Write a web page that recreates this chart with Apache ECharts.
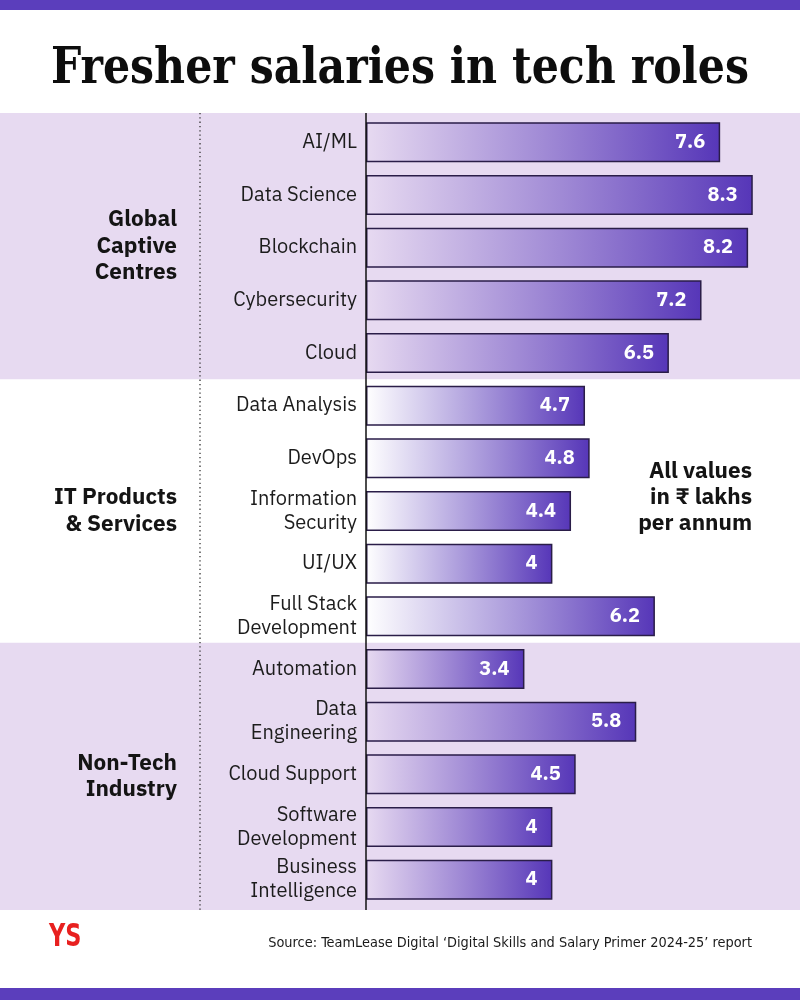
<!DOCTYPE html>
<html>
<head>
<meta charset="utf-8">
<script src="https://cdn.jsdelivr.net/npm/echarts@6/dist/echarts.min.js"></script>
<style>
html,body{margin:0;padding:0;background:#fff;}
#chart{width:800px;height:1000px;}
</style>
</head>
<body>
<div id="chart"></div>
<script>
// ---- data ----
const categories = ['AI/ML','Data Science','Blockchain','Cybersecurity','Cloud',
  'Data Analysis','DevOps','Information\nSecurity','UI/UX','Full Stack\nDevelopment',
  'Automation','Data\nEngineering','Cloud Support','Software\nDevelopment','Business\nIntelligence'];
const values = [7.6, 8.3, 8.2, 7.2, 6.5, 4.7, 4.8, 4.4, 4, 6.2, 3.4, 5.8, 4.5, 4, 4];
const groupNames = ['Global\nCaptive\nCentres', 'IT Products\n& Services', 'Non-Tech\nIndustry'];
const groupSizes = [5, 5, 5];
const groupShaded = [true, false, true];
const titleText = 'Fresher salaries in tech roles';
const noteText = 'All values\nin \u20b9 lakhs\nper annum';
const sourceText = 'Source: TeamLease Digital \u2018Digital Skills and Salary Primer 2024-25\u2019 report';

const SANS = '"IBM Plex Sans", "Noto Sans", "Open Sans", sans-serif';
const BAND = '#e7daf1';
const PURPLE = '#5b3ebc';

const chart = echarts.init(document.getElementById('chart'), null, {renderer: 'canvas'});

const GRID = {left: 366, top: 116, width: 419.4, height: 790};

const option = {
  animation: false,
  backgroundColor: '#ffffff',
  grid: {left: GRID.left, top: GRID.top, width: GRID.width, height: GRID.height, containLabel: false},
  xAxis: {
    type: 'value', min: 0, max: 9, show: false
  },
  yAxis: {
    type: 'category', data: categories, inverse: true,
    axisLine: {show: false},
    axisTick: {show: false},
    axisLabel: {
      color: '#1c1c1c', fontSize: 20, fontFamily: SANS, margin: 9,
      lineHeight: 24, align: 'right'
    },
    z: 5
  },
  series: [{
    type: 'bar',
    data: values,
    barWidth: '76%',
    itemStyle: {
      color: new echarts.graphic.LinearGradient(0, 0, 1, 0, [
        {offset: 0, color: 'rgba(91,60,186,0.0)'},
        {offset: 0.5, color: 'rgba(91,60,186,0.5)'},
        {offset: 1, color: 'rgba(86,54,184,1)'}
      ]),
      borderColor: '#2a1d48',
      borderWidth: 1.5
    },
    label: {
      show: true, position: 'insideRight', distance: 15,
      color: '#ffffff', fontSize: 20, fontWeight: 'bold', fontFamily: SANS
    },
    z: 3
  }]
};
chart.setOption(option);

// background bands, group labels, decorations derived from axis positions
const centers = categories.map((c, i) => chart.convertToPixel({yAxisIndex: 0}, i));
const half = (centers[1] - centers[0]) / 2;
const PAD_TOP = 3, PAD_BOT = 4;
const graphics = [];
let idx = 0;
groupSizes.forEach((n, g) => {
  let y0 = centers[idx] - half;
  let y1 = centers[idx + n - 1] + half;
  if (g === 0) y0 -= PAD_TOP;
  if (g === groupSizes.length - 1) y1 += PAD_BOT;
  if (groupShaded[g]) {
    graphics.push({type: 'rect', z: -10, silent: true,
      shape: {x: 0, y: y0, width: 800, height: y1 - y0}, style: {fill: BAND}});
  }
  graphics.push({type: 'text', z: 10, x: 177, y: (y0 + y1) / 2,
    style: {text: groupNames[g], fill: '#141414', font: 'bold 22.5px ' + SANS,
      lineHeight: 26.5, align: 'right', verticalAlign: 'middle'}});
  idx += n;
});
const gTop = centers[0] - half - PAD_TOP;
const gBot = centers[centers.length - 1] + half + PAD_BOT;
const axisX = chart.convertToPixel({xAxisIndex: 0}, 0);
graphics.push(
  {type: 'line', z: 10, shape: {x1: 200, y1: gTop, x2: 200, y2: gBot},
    style: {stroke: '#333', lineWidth: 1.3, lineDash: [1.3, 3]}},
  {type: 'line', z: 20, shape: {x1: axisX, y1: gTop, x2: axisX, y2: gBot},
    style: {stroke: '#111', lineWidth: 1.5}},
  {type: 'rect', z: 10, shape: {x: 0, y: 0, width: 800, height: 10}, style: {fill: PURPLE}},
  {type: 'rect', z: 10, shape: {x: 0, y: 988, width: 800, height: 12}, style: {fill: PURPLE}},
  {type: 'text', z: 10, x: 400, y: 70, scaleX: 0.93,
    style: {text: titleText, fill: '#0d0d0d',
      font: 'bold 51px "DejaVu Serif Condensed", "Liberation Serif", serif',
      align: 'center', verticalAlign: 'middle'}},
  {type: 'text', z: 10, x: 752, y: 498,
    style: {text: noteText, fill: '#141414', font: 'bold 22.5px ' + SANS,
      lineHeight: 26, align: 'right', verticalAlign: 'middle'}},
  {type: 'text', z: 10, x: 49, y: 938, scaleX: 0.78,
    style: {text: 'YS', fill: '#e8201f',
      font: 'bold 32px "DejaVu Sans Condensed", sans-serif',
      align: 'left', verticalAlign: 'middle'}},
  {type: 'text', z: 10, x: 752, y: 943,
    style: {text: sourceText, fill: '#1a1a1a',
      font: '14.4px "DejaVu Sans Condensed", "Roboto", sans-serif',
      align: 'right', verticalAlign: 'middle'}}
);
chart.setOption({graphic: graphics});
</script>
</body>
</html>
